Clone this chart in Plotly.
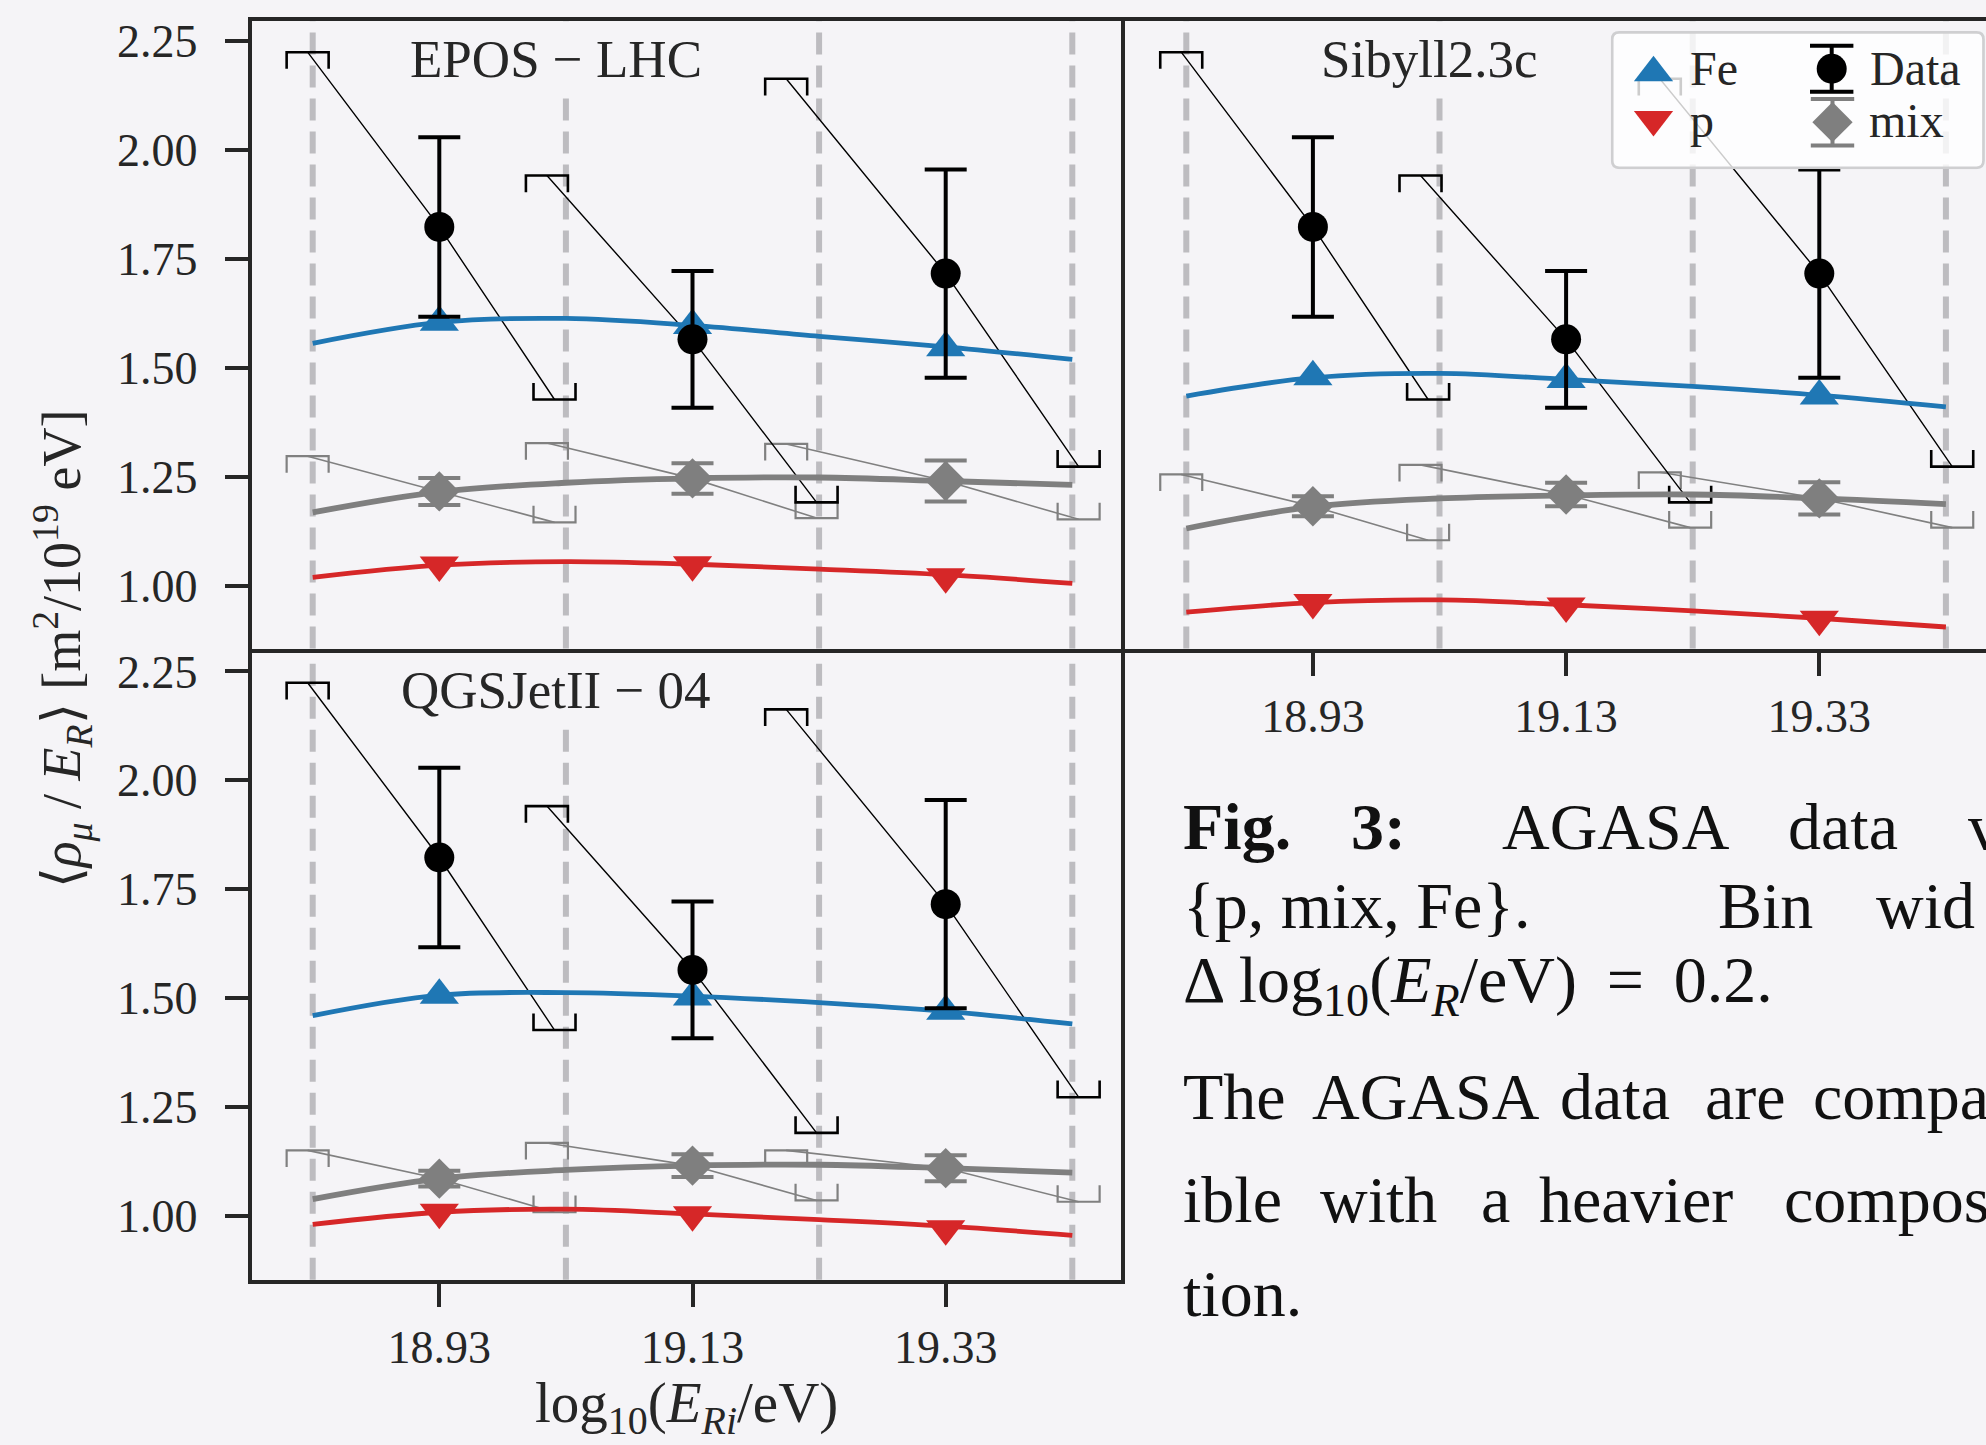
import plotly.graph_objects as go

W, H = 1986, 1445
BG = "#f5f4f7"
FONT = "Liberation Serif"
TXT = "#262626"
BLUE, RED, GRAY, BLACK = "#1f77b4", "#d62728", "#7f7f7f", "#000000"

# ---------------- data ----------------
energy_bins = [18.93, 19.13, 19.33]
tick_labels = ["18.93", "19.13", "19.33"]
bin_edges = [18.83, 19.03, 19.23, 19.43]
curve_x = [18.83, 18.93, 19.03, 19.13, 19.23, 19.33, 19.43]
ytick_vals = [1.00, 1.25, 1.50, 1.75, 2.00, 2.25]
ytick_text = ["1.00", "1.25", "1.50", "1.75", "2.00", "2.25"]

data_y = [1.823, 1.565, 1.716]
data_err = [0.206, 0.157, 0.239]
sys_x_up = [18.826, 19.015, 19.204]
sys_x_lo = [19.021, 19.228, 19.435]
data_sys_up = [2.224, 1.941, 2.163]
data_sys_lo = [1.427, 1.191, 1.273]

epos_fe = [1.604, 1.597, 1.546]
epos_fe_curve = [1.556, 1.604, 1.613, 1.597, 1.572, 1.548, 1.519]
epos_p = [1.047, 1.048, 1.020]
epos_p_curve = [1.019, 1.047, 1.055, 1.049, 1.038, 1.025, 1.005]
epos_mix = [1.216, 1.246, 1.240]
epos_mix_err = [0.031, 0.035, 0.047]
epos_mix_curve = [1.168, 1.215, 1.236, 1.246, 1.248, 1.240, 1.231]
epos_mix_sys_up = [1.297, 1.327, 1.325]
epos_mix_sys_lo = [1.145, 1.155, 1.152]

sib_fe = [1.479, 1.473, 1.435]
sib_fe_curve = [1.435, 1.477, 1.487, 1.473, 1.457, 1.437, 1.410]
sib_p = [0.961, 0.953, 0.923]
sib_p_curve = [0.939, 0.961, 0.967, 0.956, 0.942, 0.925, 0.905]
sib_mix = [1.182, 1.209, 1.200]
sib_mix_err = [0.023, 0.027, 0.037]
sib_mix_curve = [1.131, 1.181, 1.200, 1.207, 1.209, 1.200, 1.187]
sib_mix_sys_up = [1.255, 1.277, 1.260]
sib_mix_sys_lo = [1.104, 1.133, 1.133]

qgs_fe = [1.507, 1.503, 1.470]
qgs_fe_curve = [1.460, 1.507, 1.513, 1.505, 1.490, 1.470, 1.441]
qgs_p = [1.009, 1.003, 0.971]
qgs_p_curve = [0.981, 1.009, 1.016, 1.005, 0.992, 0.977, 0.956]
qgs_mix = [1.086, 1.116, 1.110]
qgs_mix_err = [0.018, 0.026, 0.030]
qgs_mix_curve = [1.039, 1.086, 1.106, 1.116, 1.118, 1.110, 1.100]
qgs_mix_sys_up = [1.151, 1.168, 1.151]
qgs_mix_sys_lo = [1.009, 1.036, 1.033]

models = [
    ("EPOS \u2212 LHC", epos_fe, epos_fe_curve, epos_p, epos_p_curve, epos_mix,
     epos_mix_err, epos_mix_curve, epos_mix_sys_up, epos_mix_sys_lo),
    ("Sibyll2.3c", sib_fe, sib_fe_curve, sib_p, sib_p_curve, sib_mix,
     sib_mix_err, sib_mix_curve, sib_mix_sys_up, sib_mix_sys_lo),
    ("QGSJetII \u2212 04", qgs_fe, qgs_fe_curve, qgs_p, qgs_p_curve, qgs_mix,
     qgs_mix_err, qgs_mix_curve, qgs_mix_sys_up, qgs_mix_sys_lo),
]

# ---------------- geometry (pixels) ----------------
PXU_X = 1266.0   # px per unit x
PXU_Y = 437.6    # px per unit y
BW = 21 / PXU_X  # bracket half width
BH = 16.7 / PXU_Y  # bracket leg
TRI = 34


def fx(x):
    return x / W


def fy(y):
    return 1 - y / H


panels = {
    # id: (x0px, x1px, y0px(top), y1px(bottom))
    1: (251.7, 1121.0, 15.3, 645.3),
    2: (1125.0, 1986.0, 15.3, 645.3),
    3: (251.7, 1121.0, 649.3, 1279.0),
}
x_ref_px = {1: 312.7, 2: 1186.3, 3: 312.7}   # pixel of x=18.83
y_ref_px = {1: 35.0, 2: 35.0, 3: 668.2}      # pixel of y=2.25


def xrange_for(pid):
    x0, x1, _, _ = panels[pid]
    r = x_ref_px[pid]
    return [18.83 - (r - x0) / PXU_X, 18.83 + (x1 - r) / PXU_X]


def yrange_for(pid):
    _, _, y0, y1 = panels[pid]
    r = y_ref_px[pid]
    return [2.25 - (y1 - r) / PXU_Y, 2.25 + (r - y0) / PXU_Y]


fig = go.Figure()


def sys_traces(xs_up, ys_up, xd, yd, xs_lo, ys_lo):
    LX, LY, BX, BY = [], [], [], []
    for i in range(len(xd)):
        LX += [xs_up[i], xd[i], xs_lo[i], None]
        LY += [ys_up[i], yd[i], ys_lo[i], None]
        BX += [xs_up[i] - BW, xs_up[i] - BW, xs_up[i] + BW, xs_up[i] + BW, None]
        BY += [ys_up[i] - BH, ys_up[i], ys_up[i], ys_up[i] - BH, None]
        BX += [xs_lo[i] - BW, xs_lo[i] - BW, xs_lo[i] + BW, xs_lo[i] + BW, None]
        BY += [ys_lo[i] + BH, ys_lo[i], ys_lo[i], ys_lo[i] + BH, None]
    return LX, LY, BX, BY


for pid, m in zip([1, 2, 3], models):
    (title, fe, fe_c, p, p_c, mix, mix_err, mix_c, mix_up, mix_lo) = m
    xa = "x" if pid == 1 else f"x{pid}"
    ya = "y" if pid == 1 else f"y{pid}"
    common = dict(xaxis=xa, yaxis=ya, showlegend=False, hoverinfo="skip")

    # mix systematics (grey)
    LX, LY, BX, BY = sys_traces(sys_x_up, mix_up, energy_bins, mix, sys_x_lo, mix_lo)
    fig.add_trace(go.Scatter(x=LX, y=LY, mode="lines", line=dict(color="#808080", width=1.6), **common))
    fig.add_trace(go.Scatter(x=BX, y=BY, mode="lines", line=dict(color="#808080", width=2.2), **common))
    # data systematics (black)
    LX, LY, BX, BY = sys_traces(sys_x_up, data_sys_up, energy_bins, data_y, sys_x_lo, data_sys_lo)
    fig.add_trace(go.Scatter(x=LX, y=LY, mode="lines", line=dict(color=BLACK, width=1.4), **common))
    fig.add_trace(go.Scatter(x=BX, y=BY, mode="lines", line=dict(color=BLACK, width=2.6), **common))

    # model curves
    fig.add_trace(go.Scatter(x=curve_x, y=fe_c, mode="lines", line=dict(color=BLUE, width=4.8, shape="spline"), **common))
    fig.add_trace(go.Scatter(x=curve_x, y=mix_c, mode="lines", line=dict(color=GRAY, width=5.8, shape="spline"), **common))
    fig.add_trace(go.Scatter(x=curve_x, y=p_c, mode="lines", line=dict(color=RED, width=4.8, shape="spline"), **common))

    # model points
    fig.add_trace(go.Scatter(x=energy_bins, y=fe, mode="markers",
                             marker=dict(symbol="triangle-up", size=TRI, color=BLUE, line=dict(width=0)), **common))
    fig.add_trace(go.Scatter(x=energy_bins, y=p, mode="markers",
                             marker=dict(symbol="triangle-down", size=TRI, color=RED, line=dict(width=0)), **common))
    fig.add_trace(go.Scatter(x=energy_bins, y=mix, mode="markers",
                             marker=dict(symbol="diamond", size=31, color=GRAY, line=dict(width=0)),
                             error_y=dict(type="data", array=mix_err, color=GRAY, thickness=4, width=21), **common))
    # data
    fig.add_trace(go.Scatter(x=energy_bins, y=data_y, mode="markers",
                             marker=dict(symbol="circle", size=30, color=BLACK, line=dict(width=0)),
                             error_y=dict(type="data", array=data_err, color=BLACK, thickness=4, width=21), **common))

    # vertical dashed bin edges
    for e in bin_edges:
        fig.add_shape(type="line", xref=xa, yref=f"{ya} domain", x0=e, x1=e, y0=0, y1=1,
                      line=dict(color="#bdbcc0", width=6, dash="22px,11px"), layer="below")

    # panel title
    x0, x1, y0, y1 = panels[pid]
    fig.add_annotation(text=title, xref="paper", yref="paper",
                       x=fx(x0 + 0.35 * (1121.0 - 251.7)), y=fy(y0 + 38),
                       xanchor="center", yanchor="middle", showarrow=False,
                       font=dict(family=FONT, size=53, color=TXT), bgcolor=BG, borderpad=5)

# ---------------- axes ----------------
axline = dict(showline=True, linecolor=TXT, linewidth=4, showgrid=False, zeroline=False)
tickfont = dict(family=FONT, size=46, color=TXT)

fig.update_layout(
    xaxis=dict(domain=[fx(panels[1][0]), fx(panels[1][1])], range=xrange_for(1), anchor="y",
               side="top", mirror=False, showticklabels=False, ticks="", **axline),
    yaxis=dict(domain=[fy(panels[1][3]), fy(panels[1][2])], range=yrange_for(1), anchor="x",
               mirror=False, tickvals=ytick_vals, ticktext=ytick_text, ticks="outside",
               ticklen=23, tickwidth=4, tickcolor=TXT, tickfont=tickfont, ticklabelstandoff=18, **axline),
    xaxis2=dict(domain=[fx(panels[2][0]), fx(panels[2][1])], range=xrange_for(2), anchor="y2",
                mirror=True, tickvals=energy_bins, ticktext=tick_labels, ticks="outside",
                ticklen=23, tickwidth=4, tickcolor=TXT, tickfont=tickfont, ticklabelstandoff=1, **axline),
    yaxis2=dict(domain=[fy(panels[2][3]), fy(panels[2][2])], range=yrange_for(2), anchor="x2",
                mirror=False, showticklabels=False, ticks="", **axline),
    xaxis3=dict(domain=[fx(panels[3][0]), fx(panels[3][1])], range=xrange_for(3), anchor="y3",
                mirror=True, tickvals=energy_bins, ticktext=tick_labels, ticks="outside",
                ticklen=23, tickwidth=4, tickcolor=TXT, tickfont=tickfont, ticklabelstandoff=1, **axline),
    yaxis3=dict(domain=[fy(panels[3][3]), fy(panels[3][2])], range=yrange_for(3), anchor="x3",
                mirror=True, tickvals=ytick_vals, ticktext=ytick_text, ticks="outside",
                ticklen=23, tickwidth=4, tickcolor=TXT, tickfont=tickfont, ticklabelstandoff=18, **axline),
)

# ---------------- legend (overlay subplot in pixel units) ----------------
LG = (1610.7, 1985.0, 25.0, 164.0)
fig.update_layout(
    xaxis4=dict(domain=[fx(LG[0]), fx(LG[1])], range=[LG[0], LG[1]], visible=False, anchor="y4"),
    yaxis4=dict(domain=[fy(LG[3]), fy(LG[2])], range=[LG[3], LG[2]], visible=False, anchor="x4"),
)
x0, x1, y0, y1, r = LG[0] + 1.5, LG[1] - 1.5, LG[2] + 1.5, LG[3] - 1.5, 7
path = (f"M{x0+r},{y0} L{x1-r},{y0} Q{x1},{y0} {x1},{y0+r} L{x1},{y1-r} Q{x1},{y1} {x1-r},{y1} "
        f"L{x0+r},{y1} Q{x0},{y1} {x0},{y1-r} L{x0},{y0+r} Q{x0},{y0} {x0+r},{y0} Z")
fig.add_shape(type="path", path=path, xref="x4", yref="y4", layer="below",
              fillcolor="rgba(255,255,255,0.8)", line=dict(color="#cfcfd1", width=2.7))

leg_common = dict(xaxis="x4", yaxis="y4", showlegend=False, hoverinfo="skip", mode="markers")
fig.add_trace(go.Scatter(x=[1653.5], y=[67.0], marker=dict(symbol="triangle-up", size=TRI, color=BLUE), **leg_common))
fig.add_trace(go.Scatter(x=[1653.5], y=[114.0], marker=dict(symbol="triangle-down", size=TRI, color=RED), **leg_common))
fig.add_trace(go.Scatter(x=[1831.7], y=[63.0], marker=dict(symbol="circle", size=30, color=BLACK),
                         error_y=dict(type="constant", value=23, color=BLACK, thickness=4, width=21.7), **leg_common))
fig.add_trace(go.Scatter(x=[1832.5], y=[116.7], marker=dict(symbol="diamond", size=31, color=GRAY),
                         error_y=dict(type="constant", value=23.3, color=GRAY, thickness=4, width=21.7), **leg_common))

LEGF = dict(family=FONT, size=48, color=TXT)
for txt, lx, base in [("Fe", 1688, 78.3), ("p", 1688, 131), ("Data", 1868, 78.3), ("mix", 1867, 131)]:
    fig.add_annotation(text=txt, xref="paper", yref="paper", x=fx(lx), y=fy(base - 0.33 * 48),
                       xanchor="left", yanchor="middle", showarrow=False, font=LEGF)

# ---------------- axis titles ----------------
fig.add_annotation(text="\u27e8<i>\u03c1</i><sub><i>\u03bc</i></sub> / <i>E</i><sub><i>R</i></sub>\u27e9 [m<sup>2</sup>/10<sup>19</sup> eV]",
                   xref="paper", yref="paper", x=fx(62), y=fy(646), textangle=-90,
                   xanchor="center", yanchor="middle", showarrow=False,
                   font=dict(family=FONT, size=54, color=TXT))
fig.add_annotation(text="log<sub>10</sub>(<i>E</i><sub><i>Ri</i></sub>/eV)",
                   xref="paper", yref="paper", x=fx(686), y=fy(1407),
                   xanchor="center", yanchor="middle", showarrow=False,
                   font=dict(family=FONT, size=57, color=TXT))

# ---------------- caption text (clipped page text) ----------------
CAPF = dict(family=FONT, size=66, color="#111111")
caption_words = [
    (845.7, [("<b>Fig.</b>", 1181), ("<b>3:</b>", 1349), ("AGASA", 1500), ("data", 1786), ("v", 1966)]),
    (925.0, [("{p, mix, Fe}.", 1181), ("Bin", 1716), ("wid", 1874)]),
    (1004.6, [("\u0394\u2009log<sub>10</sub>(<i>E</i><sub><i>R</i></sub>/eV)\u2009 =\u2009 0.2.", 1181)]),
    (1117.0, [("The", 1181), ("AGASA", 1310), ("data", 1558), ("are", 1703), ("compa", 1811)]),
    (1220.7, [("ible", 1181), ("with", 1318), ("a", 1479), ("heavier", 1537), ("compos", 1782)]),
    (1315.0, [("tion.", 1181)]),
]
for base, words in caption_words:
    for w, lx in words:
        fig.add_annotation(text=w, xref="paper", yref="paper", x=fx(lx), y=fy(base - 0.33 * 66),
                           xanchor="left", yanchor="middle", showarrow=False, font=CAPF)

fig.update_layout(width=W, height=H, autosize=False, margin=dict(l=0, r=0, t=0, b=0, pad=0),
                  paper_bgcolor=BG, plot_bgcolor="rgba(0,0,0,0)", showlegend=False,
                  font=dict(family=FONT, color=TXT))

fig.write_html(
    "out.html",
    config={"displayModeBar": False, "responsive": False},
    post_script=("document.documentElement.style.margin='0';document.body.style.margin='0';"
                 "document.body.style.padding='0';document.body.style.overflow='hidden';"
                 "var d=document.getElementById('{plot_id}');d.style.position='absolute';"
                 "d.style.top='0px';d.style.left='0px';"),
)
